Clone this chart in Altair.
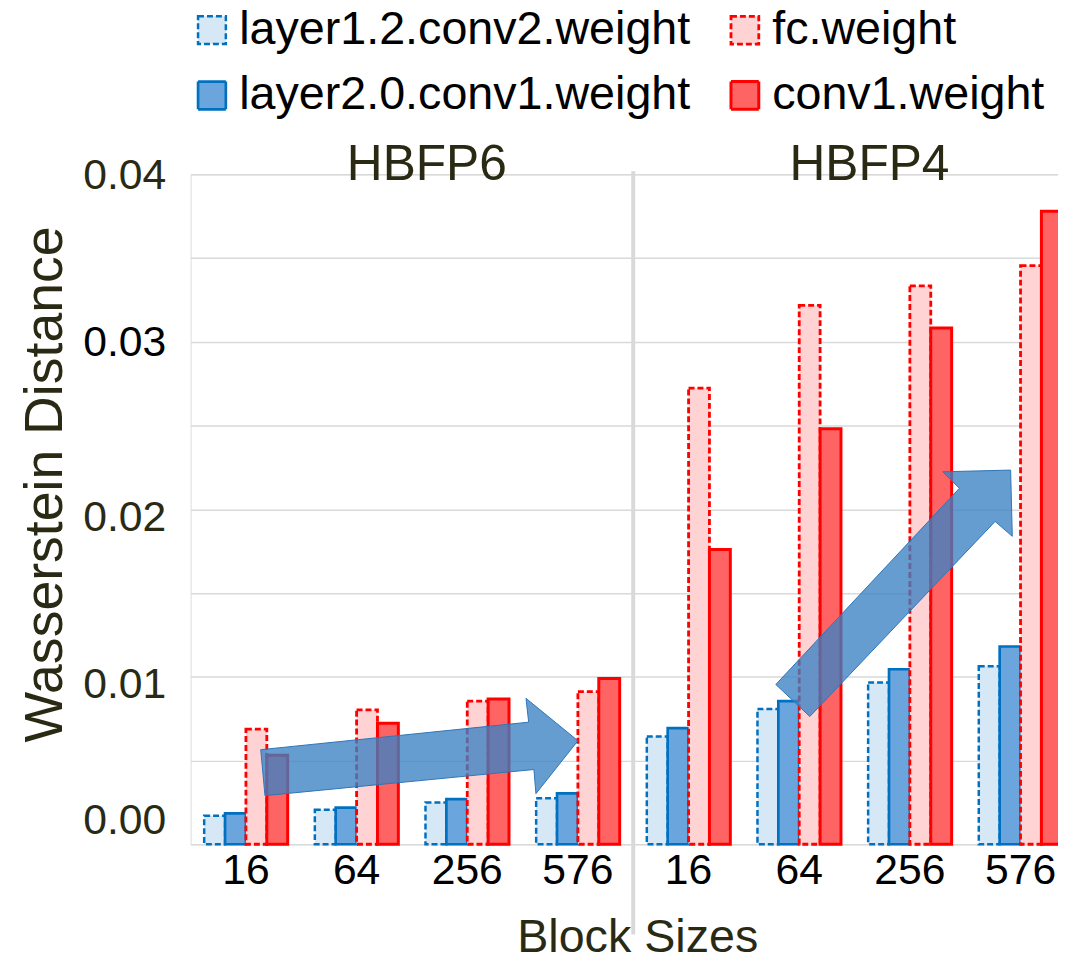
import altair as alt
import pandas as pd

formats = ["HBFP6", "HBFP4"]
block_sizes = ["16", "64", "256", "576"]
series = ["layer1.2.conv2.weight", "layer2.0.conv1.weight", "fc.weight", "conv1.weight"]

# values: HBFP6 16,64,256,576 then HBFP4 16,64,256,576
layer12_vals = [0.00170, 0.00206, 0.00249, 0.00275, 0.00644, 0.00808, 0.00966, 0.01063]
layer20_vals = [0.00184, 0.00219, 0.00269, 0.00304, 0.00693, 0.00855, 0.01045, 0.01181]
fc_vals = [0.00687, 0.00802, 0.00855, 0.00911, 0.02724, 0.03218, 0.03334, 0.03455]
conv1_vals = [0.00531, 0.00723, 0.00867, 0.00990, 0.01760, 0.02481, 0.03083, 0.03779]

y_ticks = [0, 0.005, 0.01, 0.015, 0.02, 0.025, 0.03, 0.035, 0.04]

# arrow annotations (tip anchor)
arrow_keys = ["HBFP6|576", "HBFP4|576"]
arrow_vals = [0.00618, 0.02234]
arrow1_path = "M -319.6 9 L -49.6 -18.7 L -52.3 -42.7 L 0 0 L -42.3 53.3 L -44.3 29 L -315.3 55.3 Z"
arrow2_path = "M -246.6 216 L -61.6 18.3 L -78.3 1.7 L -10 0 L -8.3 66.7 L -25.6 51.7 L -212.3 248.3 Z"

# colours in `series` order
fill_colors = ["#d6e7f6", "#6aa6dd", "#ffd3d3", "#ff6464"]
stroke_colors = ["#0070c0", "#0070c0", "#ff0000", "#ff0000"]
dashes = [[6, 3], [1, 0], [6, 3], [1, 0]]
stroke_widths = [2.5, 3, 2.5, 4.5]

OLIVE = "#2a2a14"
FONT = "Liberation Sans"

keys = [f"{f}|{b}" for f in formats for b in block_sizes]
rows = []
for name, vals in zip(series, [layer12_vals, layer20_vals, fc_vals, conv1_vals]):
    for k, v in zip(keys, vals):
        rows.append({"key": k, "series": name, "value": v})
df = pd.DataFrame(rows)

x_scale = alt.Scale(domain=keys, range=[0, 892], paddingInner=0, paddingOuter=0)

bars = alt.Chart(df).mark_bar().encode(
    x=alt.X("key:N", scale=x_scale, sort=keys,
            axis=alt.Axis(title="Block Sizes", labelExpr="split(datum.value, '|')[1]",
                          labelAngle=0, ticks=False, domain=False, grid=False,
                          labelFontSize=43, labelColor="black", labelPadding=40,
                          labelBaseline="alphabetic", labelFont=FONT,
                          titleFont=FONT, titleFontSize=47, titleColor=OLIVE,
                          titleFontWeight="normal", titleX=450, titleY=108,
                          titleAlign="center", titleBaseline="alphabetic")),
    xOffset=alt.XOffset("series:N", sort=series,
                        scale=alt.Scale(paddingOuter=0.65, paddingInner=0)),
    y=alt.Y("value:Q", scale=alt.Scale(domain=[0, 0.04], nice=False),
            axis=alt.Axis(title="Wasserstein Distance", values=y_ticks,
                          labelExpr="round(datum.value*200) % 2 == 0 ? format(datum.value, '.2f') : ''",
                          ticks=False, domain=False, grid=True, gridColor="#d9d9d9", gridWidth=1.5,
                          labelFontSize=43, labelFont=FONT, labelPadding=25,
                          labelAlign="right", labelBaseline="middle",
                          labelOverlap=False, labelFlush=False,
                          labelColor={"condition": {"test": "datum.value == 0.03", "value": "black"}, "value": OLIVE},
                          labelOffset={"condition": [{"test": "datum.value == 0", "value": -24},
                                                     {"test": "datum.value == 0.01 || datum.value == 0.02", "value": 8}],
                                       "value": 1},
                          titleFont=FONT, titleFontSize=54, titleColor=OLIVE, titleFontWeight="normal",
                          titleAngle=270, titleX=-130, titleY=312, titleAlign="center",
                          titleBaseline="alphabetic")),
    fill=alt.Fill("series:N", scale=alt.Scale(domain=series, range=fill_colors),
                  legend=alt.Legend(orient="none", legendX=-2, legendY=-169, columns=2,
                                    columnPadding=31, rowPadding=18, symbolType="square",
                                    symbolSize=784, labelFontSize=47, labelFont=FONT,
                                    labelColor="black", labelOffset=4, title=None, padding=0,
                                    symbolStrokeWidth=2, labelLimit=1000)),
    stroke=alt.Stroke("series:N", scale=alt.Scale(domain=series, range=stroke_colors)),
    strokeDash=alt.StrokeDash("series:N", scale=alt.Scale(domain=series, range=dashes)),
    strokeWidth=alt.StrokeWidth("series:N", scale=alt.Scale(domain=series, range=stroke_widths),
                                legend=None),
)

title_df = pd.DataFrame({"key": ["HBFP6|256", "HBFP4|256"], "label": ["HBFP6", "HBFP4"], "top": [0.04, 0.04]})
titles = alt.Chart(title_df).mark_text(align="center", baseline="alphabetic", dx=15, dy=6,
                                       fontSize=50, font=FONT, color=OLIVE).encode(
    x=alt.X("key:N", bandPosition=0), y=alt.Y("top:Q"), text="label:N")

sep_df = pd.DataFrame({"key": ["HBFP4|16"]})
separator = alt.Chart(sep_df).mark_rule(color="#d9d9d9", strokeWidth=4).encode(
    x=alt.X("key:N", bandPosition=0), y=alt.value(-3), y2=alt.value(766))

arrow_df1 = pd.DataFrame({"key": [arrow_keys[0]], "value": [arrow_vals[0]]})
arrow_df2 = pd.DataFrame({"key": [arrow_keys[1]], "value": [arrow_vals[1]]})
arrow1 = alt.Chart(arrow_df1).mark_point(shape=arrow1_path, size=4, filled=True, fill="#3a82c4",
                                         fillOpacity=0.78, stroke="#2e75b6", strokeWidth=1,
                                         opacity=1).encode(x="key:N", y="value:Q")
arrow2 = alt.Chart(arrow_df2).mark_point(shape=arrow2_path, size=4, filled=True, fill="#3a82c4",
                                         fillOpacity=0.78, stroke="#2e75b6", strokeWidth=1,
                                         opacity=1).encode(x="key:N", y="value:Q")

chart = alt.layer(bars, separator, arrow1, arrow2, titles).properties(
    width=874, height=675,
    autosize=alt.AutoSizeParams(type="none"),
    padding={"left": 184, "right": 0, "top": 164, "bottom": 110},
).configure_view(stroke=None).configure(font=FONT)

chart.save("out.html", embed_options={"renderer": "svg", "actions": False})
